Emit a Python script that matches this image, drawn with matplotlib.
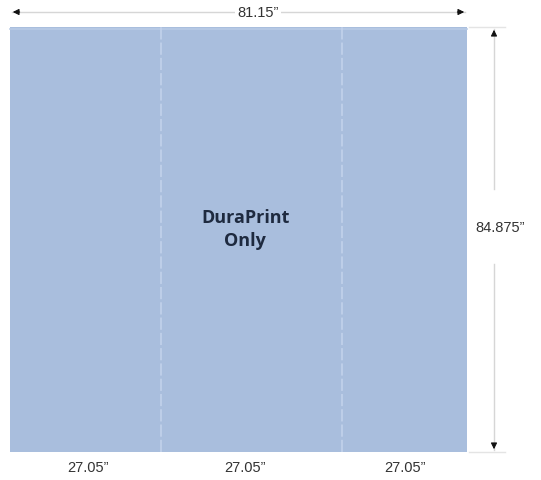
import matplotlib.pyplot as plt
from matplotlib.patches import Rectangle

# overall sheet size (inches) and panels
total_width = 81.15
total_height = 84.875
panel_labels = ['27.05”', '27.05”', '27.05”']
# fold lines and label centres as they sit in the drawing (inches from left edge)
fold_x = [26.8, 59.0]
label_x = [13.85, 41.7, 70.1]
center_text = 'DuraPrint\nOnly'

fill = '#a9bedd'
fold_col = '#c4d3ec'
dim_col = '#d6d6d6'
txt_col = '#333333'

fig = plt.figure(figsize=(5.41, 4.81), dpi=100)
ax = fig.add_axes([0, 0, 1, 1])
ax.set_axis_off()
sx = 457 / total_width
sy = 425 / total_height
ax.set_xlim(-10 / sx, (541 - 10) / sx)
ax.set_ylim(-(481 - 453) / sy, total_height + 28 / sy)

ax.add_patch(Rectangle((0, 0), total_width, total_height, facecolor=fill, edgecolor='none'))
ax.plot([0, total_width], [total_height - 0.3, total_height - 0.3], color='#b8cbe6', lw=1.2)
for fx in fold_x:
    ax.plot([fx, fx], [0, total_height], color=fold_col, lw=1.1, ls=(0, (8, 2)))

ax.text(total_width / 2 + 1.2, total_height / 2 + 2.2, center_text, ha='center', va='center',
        fontsize=13, fontweight='bold', color='#1e2a3f', family='Open Sans', linespacing=1.4)

for lx, lab in zip(label_x, panel_labels):
    ax.text(lx, -3.0, lab, ha='center', va='center', fontsize=10.5, color=txt_col,
            family='Liberation Sans')

# top dimension
ytop = total_height + 15 / sy
ax.plot([0.3, total_width - 0.3], [ytop, ytop], color=dim_col, lw=1)
head = dict(arrowstyle='-|>', color='#111111', mutation_scale=9, lw=0.8)
ax.annotate('', xy=(0, ytop), xytext=(2.2, ytop), arrowprops=head)
ax.annotate('', xy=(total_width, ytop), xytext=(total_width - 2.2, ytop), arrowprops=head)
ax.text((258 - 10) / sx, ytop, '81.15”', ha='center', va='center', fontsize=10.5,
        color=txt_col, family='Liberation Sans',
        bbox=dict(facecolor='white', edgecolor='none', pad=1.5))

# right dimension
xr = (494 - 10) / sx
for yy in (0, total_height):
    ax.plot([total_width + 0.3, total_width + 6.8], [yy, yy], color='#e4e4e4', lw=1)
ax.plot([xr, xr], [0.3, 37.5], color=dim_col, lw=1)
ax.plot([xr, xr], [52.5, total_height - 0.3], color=dim_col, lw=1)
ax.annotate('', xy=(xr, total_height), xytext=(xr, total_height - 2.2), arrowprops=head)
ax.annotate('', xy=(xr, 0), xytext=(xr, 2.2), arrowprops=head)
ax.text((500 - 10) / sx, 45.0, '84.875”', ha='center', va='center', fontsize=10.5,
        color=txt_col, family='Liberation Sans', zorder=4)

fig.savefig('out.png', dpi=100)
